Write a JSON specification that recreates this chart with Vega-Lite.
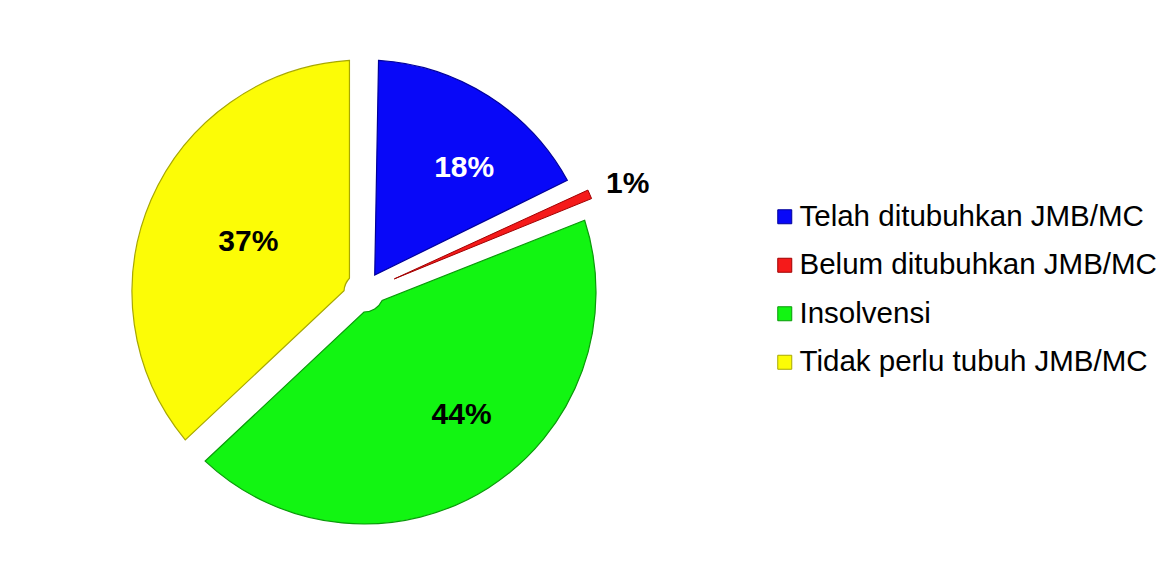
{
  "$schema": "https://vega.github.io/schema/vega-lite/v6.json",
  "width": 464,
  "height": 464,
  "autosize": {"type": "none"},
  "padding": {"left": 132, "top": 60, "right": 576, "bottom": 46},
  "background": "white",
  "view": {"stroke": null},
  "data": {
    "values": [
      {"label": "Telah ditubuhkan JMB/MC", "value": 18, "pct": "18%", "order": 1},
      {"label": "Belum ditubuhkan JMB/MC", "value": 1, "pct": "1%", "order": 2},
      {"label": "Insolvensi", "value": 44, "pct": "44%", "order": 3},
      {"label": "Tidak perlu tubuh JMB/MC", "value": 37, "pct": "37%", "order": 4}
    ]
  },
  "encoding": {
    "theta": {"field": "value", "type": "quantitative", "stack": true},
    "order": {"field": "order", "type": "quantitative"}
  },
  "layer": [
    {
      "mark": {"type": "arc", "radius": 232, "radius2": 20, "padAngle": 0.125, "strokeWidth": 1.2},
      "encoding": {
        "color": {
          "field": "label",
          "type": "nominal",
          "sort": ["Telah ditubuhkan JMB/MC", "Belum ditubuhkan JMB/MC", "Insolvensi", "Tidak perlu tubuh JMB/MC"],
          "scale": {
            "domain": ["Telah ditubuhkan JMB/MC", "Belum ditubuhkan JMB/MC", "Insolvensi", "Tidak perlu tubuh JMB/MC"],
            "range": ["#0808f8", "#f51a1a", "#12f512", "#fcfc06"]
          },
          "legend": {
            "orient": "none",
            "legendX": 638,
            "legendY": 142,
            "title": null,
            "labelFontSize": 29.5,
            "labelFont": "Liberation Sans",
            "labelColor": "black",
            "symbolType": "square",
            "symbolSize": 196,
            "rowPadding": 17.5,
            "labelOffset": 0,
            "labelLimit": 0,
            "symbolStrokeWidth": 1,
            "symbolStrokeColor": "#555555",
            "symbolOpacity": 1
          }
        },
        "stroke": {
          "field": "label",
          "type": "nominal",
          "scale": {
            "domain": ["Telah ditubuhkan JMB/MC", "Belum ditubuhkan JMB/MC", "Insolvensi", "Tidak perlu tubuh JMB/MC"],
            "range": ["#00009a", "#a00000", "#0a9a0a", "#a8a800"]
          },
          "legend": null
        },
        "opacity": {"condition": {"test": "datum.value < 5", "value": 0}, "value": 1}
      }
    },
    {
      "mark": {"type": "arc", "radius": 246, "radius2": 33, "padAngle": 0.025, "strokeWidth": 1},
      "encoding": {
        "color": {"field": "label", "type": "nominal"},
        "stroke": {"field": "label", "type": "nominal", "legend": null},
        "opacity": {"condition": {"test": "datum.value >= 5", "value": 0}, "value": 1}
      }
    },
    {
      "mark": {"type": "text", "radius": 159, "dx": 15, "dy": 10, "fontSize": 30, "fontWeight": "bold", "font": "Liberation Sans", "baseline": "middle", "align": "center"},
      "encoding": {
        "text": {"field": "pct", "type": "nominal"},
        "color": {"value": "white"},
        "opacity": {"condition": {"test": "datum.order == 1", "value": 1}, "value": 0}
      }
    },
    {
      "mark": {"type": "text", "radius": 156, "dx": 14, "dy": -9, "fontSize": 30, "fontWeight": "bold", "font": "Liberation Sans", "baseline": "middle", "align": "center"},
      "encoding": {
        "text": {"field": "pct", "type": "nominal"},
        "color": {"value": "black"},
        "opacity": {"condition": {"test": "datum.order == 3", "value": 1}, "value": 0}
      }
    },
    {
      "mark": {"type": "text", "radius": 126, "fontSize": 30, "fontWeight": "bold", "font": "Liberation Sans", "baseline": "middle", "align": "center"},
      "encoding": {
        "text": {"field": "pct", "type": "nominal"},
        "color": {"value": "black"},
        "opacity": {"condition": {"test": "datum.order == 4", "value": 1}, "value": 0}
      }
    },
    {
      "mark": {"type": "text", "radius": 284, "dx": 3, "dy": 5, "fontSize": 30, "fontWeight": "bold", "font": "Liberation Sans", "baseline": "middle", "align": "center"},
      "encoding": {
        "text": {"field": "pct", "type": "nominal"},
        "color": {"value": "black"},
        "opacity": {"condition": {"test": "datum.order == 2", "value": 1}, "value": 0}
      }
    }
  ]
}
